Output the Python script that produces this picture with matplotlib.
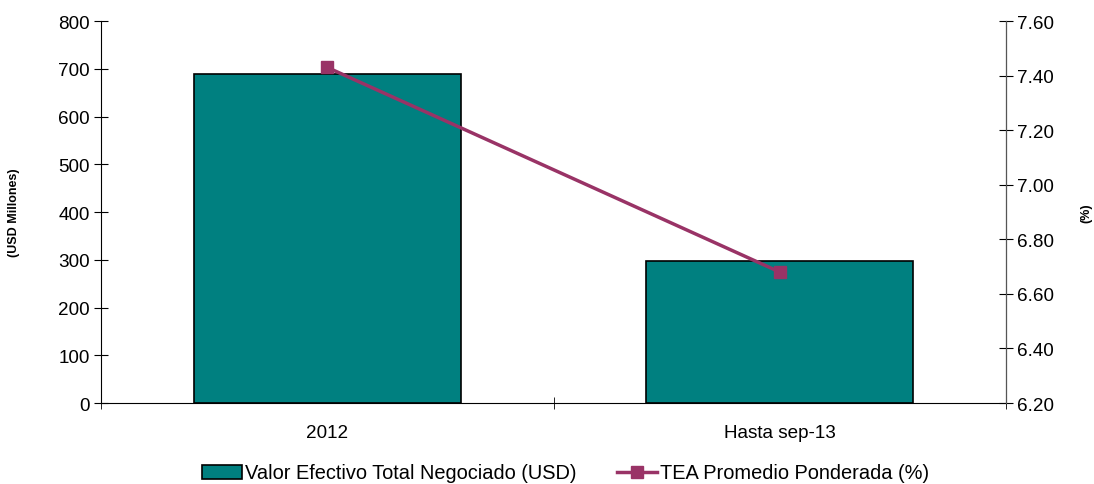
import matplotlib.pyplot as plt
from matplotlib.lines import Line2D
from matplotlib.patches import Patch

plt.rcParams["font.family"] = ["Liberation Sans", "DejaVu Sans"]

# ── Data ─────────────────────────────────────────────────────────────
categories = ["2012", "Hasta sep-13"]
valor_usd = [689, 297]          # USD millones
tea_pct = [7.43, 6.68]          # %

BAR_COLOR = "#008080"
LINE_COLOR = "#993366"
FS = 13.6

fig = plt.figure(figsize=(10.94, 4.85), dpi=100)
ax = fig.add_axes([0.0923, 0.167, 0.8273, 0.7876])
x = list(range(len(categories)))

ax.bar(x, valor_usd, width=0.59, color=BAR_COLOR, edgecolor="black",
       linewidth=1.2, zorder=2)
ax.set_xlim(-0.5, len(categories) - 0.5)
ax.set_ylim(0, 800)
ax.set_yticks(range(0, 801, 100))
ax.set_xticks(x)
ax.set_xticklabels(categories)
ax.set_xticks([-0.5, 0.5, 1.5], minor=True)
ax.tick_params(axis="x", which="major", length=0, labelsize=FS, pad=15)
ax.tick_params(axis="x", which="minor", direction="inout", length=8)
ax.tick_params(axis="y", direction="inout", length=10, labelsize=FS, pad=3)
ax.set_ylabel("(USD Millones)", fontsize=9, fontweight="bold")
ax.yaxis.set_label_coords(-0.0895, 0.5)
ax.spines["top"].set_visible(False)

ax2 = ax.twinx()
ax2.plot(x, tea_pct, color=LINE_COLOR, linewidth=2.5, marker="s",
         markersize=8.5, zorder=3)
ax2.set_ylim(6.2, 7.6)
ax2.set_yticks([6.2 + 0.2 * i for i in range(8)])
ax2.set_yticklabels([f"{6.2 + 0.2 * i:.2f}" for i in range(8)])
ax2.tick_params(axis="y", direction="inout", length=10, labelsize=FS, pad=3)
ax2.set_ylabel("(%)", fontsize=9, fontweight="bold")
ax2.yaxis.set_label_coords(1.0818, 0.5)
ax2.spines["top"].set_visible(False)
ax2.spines["left"].set_visible(False)
ax2.spines["bottom"].set_visible(False)
ax2.spines["right"].set_color("#555555")

handles = [
    Patch(facecolor=BAR_COLOR, edgecolor="black", linewidth=1.2),
    Line2D([0], [0], color=LINE_COLOR, linewidth=2.5, marker="s", markersize=8.5),
]
fig.legend(handles, ["Valor Efectivo Total Negociado (USD)",
                     "TEA Promedio Ponderada (%)"],
           loc="center", bbox_to_anchor=(0.517, 1 - 474 / 485), ncol=2,
           frameon=False, fontsize=14.4, handlelength=2.0,
           handletextpad=0.15, columnspacing=2.0)

fig.savefig("out.png", dpi=100)
